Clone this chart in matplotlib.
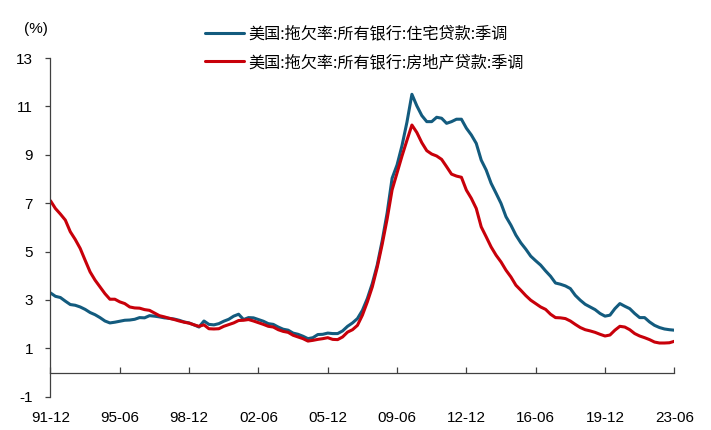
import numpy as np
import pandas as pd
import matplotlib
matplotlib.use("Agg")
import matplotlib.pyplot as plt

plt.rcParams["font.family"] = ["Liberation Sans", "Noto Sans CJK SC", "DejaVu Sans"]

# ── DATA ─────────────────────────────────────────────────────
# 季度数据 1991Q4 - 2023Q2, 拖欠率 (%)
quarters = pd.period_range("1991Q4", "2023Q2", freq="Q")

resid = [
    3.29, 3.15, 3.10, 2.95, 2.81, 2.78, 2.71, 2.61, 2.48, 2.39,
    2.27, 2.13, 2.05, 2.08, 2.12, 2.16, 2.17, 2.20, 2.27, 2.26,
    2.35, 2.33, 2.30, 2.26, 2.24, 2.21, 2.16, 2.09, 2.05, 1.97,
    1.88, 2.13, 1.99, 1.97, 2.02, 2.12, 2.20, 2.33, 2.41, 2.19,
    2.27, 2.26, 2.19, 2.12, 2.02, 1.99, 1.88, 1.79, 1.75, 1.63,
    1.58, 1.50, 1.40, 1.44, 1.57, 1.58, 1.63, 1.61, 1.61, 1.72,
    1.91, 2.05, 2.23, 2.57, 3.06, 3.68, 4.45, 5.45, 6.60, 8.03,
    8.58, 9.38, 10.35, 11.50, 11.02, 10.62, 10.37, 10.37, 10.55, 10.51,
    10.30, 10.37, 10.47, 10.47, 10.10, 9.82, 9.47, 8.78, 8.37, 7.82,
    7.41, 6.99, 6.44, 6.09, 5.68, 5.36, 5.10, 4.81, 4.62, 4.44,
    4.20, 3.98, 3.70, 3.65, 3.58, 3.47, 3.19, 2.99, 2.82, 2.71,
    2.60, 2.44, 2.33, 2.37, 2.64, 2.85, 2.74, 2.64, 2.44, 2.27,
    2.27, 2.09, 1.95, 1.86, 1.80, 1.77, 1.75,
]

real_estate = [
    7.10, 6.78, 6.55, 6.30, 5.82, 5.50, 5.13, 4.64, 4.16, 3.82,
    3.54, 3.26, 3.03, 3.03, 2.92, 2.85, 2.71, 2.67, 2.66, 2.60,
    2.57, 2.46, 2.35, 2.30, 2.24, 2.19, 2.13, 2.08, 2.04, 1.97,
    1.91, 1.97, 1.81, 1.80, 1.81, 1.91, 1.98, 2.05, 2.15, 2.16,
    2.19, 2.13, 2.06, 1.99, 1.91, 1.88, 1.77, 1.70, 1.66, 1.54,
    1.47, 1.40, 1.30, 1.33, 1.37, 1.40, 1.44, 1.37, 1.36, 1.47,
    1.67, 1.77, 1.95, 2.37, 2.92, 3.54, 4.35, 5.30, 6.35, 7.55,
    8.25, 8.95, 9.60, 10.23, 9.92, 9.50, 9.17, 9.03, 8.95, 8.81,
    8.51, 8.20, 8.12, 8.07, 7.54, 7.20, 6.78, 6.02, 5.61, 5.19,
    4.85, 4.57, 4.23, 3.95, 3.61, 3.40, 3.18, 2.99, 2.85, 2.71,
    2.61, 2.41, 2.27, 2.26, 2.23, 2.13, 1.99, 1.86, 1.77, 1.72,
    1.66, 1.58, 1.51, 1.55, 1.75, 1.91, 1.88, 1.77, 1.61, 1.51,
    1.44, 1.36, 1.26, 1.22, 1.22, 1.23, 1.29,
]

labels = ["美国:拖欠率:所有银行:住宅贷款:季调",
          "美国:拖欠率:所有银行:房地产贷款:季调"]
colors = ["#135B7E", "#C8000A"]

tick_labels = ["91-12", "95-06", "98-12", "02-06", "05-12",
               "09-06", "12-12", "16-06", "19-12", "23-06"]
y_ticks = [-1, 1, 3, 5, 7, 9, 11, 13]

# ── PLOT ─────────────────────────────────────────────────────
x = np.arange(len(quarters))

fig = plt.figure(figsize=(7.11, 4.30), dpi=100)
ax = fig.add_axes([0.071, 0.0774, 0.8774, 0.7877])

for vals, lab, col in zip([resid, real_estate], labels, colors):
    ax.plot(x, vals, color=col, lw=2.2, label=lab, solid_capstyle="round")

ax.set_xlim(0, len(quarters) - 1)
ax.set_ylim(-1, 13)
ax.set_yticks(y_ticks)
ax.set_yticklabels([str(v) for v in y_ticks])

step = 14
ax.set_xticks(x[::step])
ax.set_xticklabels(tick_labels)

ax.spines["top"].set_visible(False)
ax.spines["right"].set_visible(False)
ax.spines["bottom"].set_position(("data", 0))
for s in ["left", "bottom"]:
    ax.spines[s].set_color("#404040")
    ax.spines[s].set_linewidth(0.9)

ax.tick_params(axis="x", direction="in", length=4.5, width=0.9,
               color="#404040", pad=28, labelsize=11)
ax.tick_params(axis="y", direction="out", length=3.6, width=0.9,
               color="#404040", pad=9, labelsize=11)

fig.text(36 / 711, 1 - 29 / 430, "(%)", ha="center", va="center", fontsize=11)

leg = ax.legend(loc="upper left", bbox_to_anchor=(205 / 711, 1 - 25.5 / 430),
                bbox_transform=fig.transFigure, frameon=False,
                borderpad=0, borderaxespad=0, handlelength=2.4,
                handletextpad=0.3, labelspacing=0.72,
                prop={"family": ["Noto Sans CJK SC"], "size": 11.6})

plt.savefig("out.png", dpi=100)
plt.close()
